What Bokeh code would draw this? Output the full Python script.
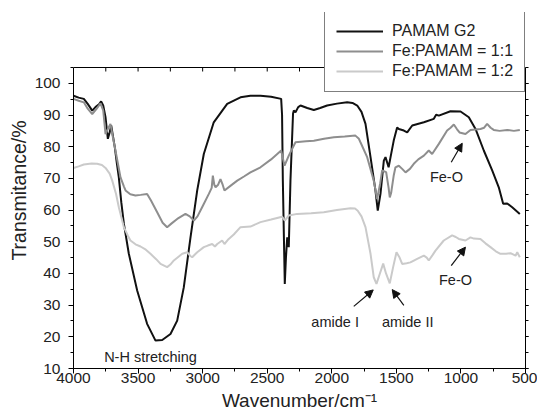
from bokeh.plotting import figure
from bokeh.models import (Range1d, LinearAxis, SingleIntervalTicker, Legend, LegendItem,
                          ColumnDataSource, Arrow, NormalHead, Span)
from bokeh.core.properties import value
from bokeh.embed import file_html
from bokeh.resources import INLINE

# ---------------- data ----------------
pamam_wn = [4000, 3960, 3920, 3890, 3855, 3830, 3800, 3786, 3770, 3752, 3734, 3720, 3708, 3695,
            3680, 3665, 3649, 3630, 3610, 3572, 3507, 3430, 3365, 3313, 3249, 3197, 3146, 3094,
            3042, 2991, 2914, 2810, 2707, 2630, 2552, 2470, 2392, 2385, 2379, 2364, 2355, 2345,
            2333, 2320, 2300, 2294, 2281, 2260, 2242, 2190, 2139, 2090, 2036, 1960, 1881, 1840,
            1803, 1770, 1739, 1700, 1662, 1644, 1623, 1597, 1584, 1560, 1545, 1520, 1494, 1481,
            1442, 1416, 1377, 1287, 1210, 1192, 1171, 1081, 1003, 939, 887, 823, 758, 707, 673,
            642, 603, 544]
pamam_t = [96.1, 95.5, 95.1, 93.5, 91.4, 92.5, 93.5, 94.3, 93.0, 89.3, 82.5, 84.5, 86.7, 83.5,
           79.8, 75.0, 70.3, 62.5, 55.7, 46.3, 34.6, 24.1, 18.8, 19.0, 20.9, 25.1, 35.6, 51.4,
           66.2, 77.7, 87.7, 93.5, 95.6, 96.1, 96.1, 95.8, 95.1, 90.0, 69.3, 36.7, 45.0, 51.4,
           48.3, 69.3, 90.5, 91.4, 90.9, 92.5, 93.0, 92.2, 91.6, 92.2, 93.0, 93.6, 94.0, 93.8,
           93.0, 91.0, 87.2, 76.7, 66.2, 59.8, 65.1, 75.6, 76.7, 73.5, 76.7, 82.0, 86.1, 85.6,
           85.1, 84.5, 86.7, 87.7, 88.8, 90.1, 89.8, 91.2, 91.1, 89.3, 85.6, 78.8, 72.5, 67.2,
           62.0, 62.1, 60.9, 58.8]

fe11_wn = [4000, 3960, 3920, 3890, 3855, 3820, 3791, 3770, 3752, 3735, 3714, 3695, 3675, 3636,
           3610, 3597, 3560, 3520, 3480, 3430, 3400, 3352, 3310, 3275, 3240, 3197, 3133, 3100,
           3068, 3040, 3004, 2952, 2930, 2921, 2910, 2900, 2880, 2862, 2845, 2831, 2780, 2732,
           2680, 2630, 2552, 2470, 2392, 2366, 2333, 2281, 2200, 2139, 2060, 1984, 1900, 1817,
           1790, 1778, 1726, 1675, 1649, 1625, 1610, 1579, 1560, 1551, 1540, 1520, 1507, 1481,
           1455, 1429, 1395, 1365, 1330, 1287, 1249, 1223, 1171, 1107, 1080, 1055, 1030, 1011,
           965, 926, 849, 820, 797, 770, 746, 700, 642, 590, 544]
fe11_t = [95.1, 94.5, 94.0, 92.0, 90.3, 92.0, 93.7, 91.5, 84.0, 85.5, 87.2, 83.0, 78.8, 70.3,
          67.5, 66.2, 65.0, 64.6, 64.8, 65.1, 63.0, 59.3, 56.0, 54.6, 55.8, 57.2, 58.8, 58.0,
          56.7, 58.0, 60.9, 65.1, 67.0, 70.9, 68.0, 67.2, 68.0, 69.8, 68.0, 66.2, 67.8, 69.3,
          70.6, 71.9, 73.5, 76.0, 78.8, 74.0, 77.2, 81.4, 81.7, 81.9, 82.5, 83.0, 83.2, 83.5,
          82.5, 81.4, 76.7, 69.3, 63.5, 68.5, 72.5, 72.0, 67.0, 64.0, 65.5, 71.0, 73.5, 74.0,
          73.0, 71.9, 73.0, 74.6, 76.0, 77.2, 78.8, 77.7, 80.9, 85.1, 86.0, 87.0, 85.5, 84.5,
          84.0, 85.3, 85.6, 86.0, 87.2, 86.0, 85.3, 85.0, 85.3, 85.0, 85.3]

fe12_wn = [4000, 3960, 3920, 3860, 3817, 3780, 3752, 3720, 3700, 3670, 3649, 3610, 3580, 3559,
           3520, 3481, 3440, 3404, 3360, 3326, 3275, 3250, 3223, 3158, 3120, 3095, 3081, 3060,
           3042, 2991, 2960, 2926, 2905, 2887, 2849, 2831, 2800, 2759, 2707, 2630, 2552, 2470,
           2384, 2364, 2333, 2268, 2160, 2062, 1960, 1855, 1820, 1799, 1770, 1739, 1700, 1675,
           1654, 1628, 1602, 1580, 1551, 1525, 1499, 1475, 1455, 1420, 1391, 1339, 1287, 1265,
           1249, 1220, 1197, 1133, 1068, 1040, 1016, 965, 926, 900, 849, 810, 771, 730, 694,
           650, 616, 577, 564, 544]
fe12_t = [73.3, 73.8, 74.4, 74.7, 74.6, 74.2, 73.3, 71.5, 69.3, 65.0, 60.9, 54.6, 52.0, 50.4,
          49.2, 48.5, 47.5, 46.2, 44.5, 43.0, 42.0, 42.8, 44.1, 46.2, 46.7, 45.5, 45.1, 46.0,
          46.7, 48.3, 48.8, 49.3, 48.5, 49.3, 50.4, 49.3, 50.8, 52.3, 54.6, 54.8, 56.2, 57.0,
          57.9, 56.7, 58.3, 58.8, 59.0, 59.3, 60.0, 60.6, 60.5, 59.8, 58.0, 54.6, 46.2, 38.8,
          36.7, 39.9, 43.1, 40.0, 36.9, 42.0, 46.7, 45.0, 43.0, 43.2, 43.5, 44.6, 45.6, 45.0,
          44.1, 45.8, 47.2, 50.4, 52.0, 51.5, 50.9, 50.4, 51.4, 51.0, 50.9, 49.5, 48.3, 47.0,
          46.2, 46.2, 46.4, 45.6, 46.7, 45.1]

series_names = ["PAMAM G2", "Fe:PAMAM = 1:1", "Fe:PAMAM = 1:2"]

ann_text = ["N-H stretching", "amide I", "amide II", "Fe-O", "Fe-O"]
ann_x = [3404, 1974, 1412, 1112, 1042]
ann_y = [12.2, 23.2, 23.2, 68.8, 36.2]

arrow_x0 = [1830, 1442, 1075, 1075]
arrow_y0 = [29.6, 29.9, 75.1, 42.5]
arrow_x1 = [1679, 1532, 990, 965]
arrow_y1 = [34.8, 34.9, 81.1, 48.3]

x_label = "Wavenumber/cm\u207b\u00b9"
y_label = "Transmitance/%"

Y_MIN, Y_MAX = 10, 105          # visible axis box
X_START, X_END = 4000, 500

# ---------------- figure ----------------
FONT = "Liberation Sans"
# frame extends above the axis box so the legend (which overlaps the box top) is not clipped
y_top = Y_MIN + (420 - 12 - 52) * (Y_MAX - Y_MIN) / 301.0
p = figure(width=537, height=420, output_backend="svg", toolbar_location=None,
           x_range=Range1d(X_START, X_END), y_range=Range1d(Y_MIN, y_top),
           min_border_left=73, min_border_right=12, min_border_top=12, min_border_bottom=52,
           x_axis_label=x_label, y_axis_label=y_label)
p.xgrid.visible = False
p.ygrid.visible = False
p.outline_line_color = None
p.background_fill_color = "white"
p.border_fill_color = "white"

xa = p.xaxis[0]
xa.ticker = SingleIntervalTicker(interval=500, num_minor_ticks=2)
ya = p.yaxis[0]
ya.ticker = SingleIntervalTicker(interval=10, num_minor_ticks=2)
ya.bounds = (Y_MIN, Y_MAX)
for ax in (xa, ya):
    ax.axis_line_color = "black"
    ax.major_tick_line_color = "black"
    ax.minor_tick_line_color = "black"
    ax.major_tick_in = 0
    ax.major_tick_out = 5
    ax.minor_tick_in = 0
    ax.minor_tick_out = 3
    ax.major_label_text_font = FONT
    ax.major_label_text_font_size = "15.5px"
    ax.major_label_text_color = "#222222"
    ax.axis_label_text_font = FONT
    ax.axis_label_text_font_style = "normal"
    ax.axis_label_text_color = "#222222"
xa.axis_label_text_font_size = "19px"
ya.axis_label_text_font_size = "19.5px"
ya.major_label_standoff = 8
ya.axis_label_standoff = 2
xa.major_label_standoff = -1
xa.axis_label_standoff = 4

right = LinearAxis(ticker=SingleIntervalTicker(interval=10, num_minor_ticks=2))
right.bounds = (Y_MIN, Y_MAX)
right.major_tick_in = 0
right.major_tick_out = 3
right.minor_tick_in = 0
right.minor_tick_out = 3
right.major_label_text_font_size = "1px"
right.major_label_text_color = None
right.major_label_standoff = 0
p.add_layout(right, "right")

# top edge of the axis box, with inward ticks every 250
p.add_layout(Span(location=Y_MAX, dimension="width", line_color="black", line_width=1))
top_ticks = list(range(X_END + 250, X_START, 250))
tick_len = 4 * (y_top - Y_MIN) / (420 - 12 - 52)
p.segment(x0=top_ticks, y0=[Y_MAX] * len(top_ticks), x1=top_ticks,
          y1=[Y_MAX - tick_len] * len(top_ticks), line_color="black", line_width=1)

colors = ["#111111", "#8e8e8e", "#cacaca"]
r1 = p.line(pamam_wn, pamam_t, line_color=colors[0], line_width=2)
r2 = p.line(fe11_wn, fe11_t, line_color=colors[1], line_width=2)
r3 = p.line(fe12_wn, fe12_t, line_color=colors[2], line_width=2)

# annotations
p.text(x=ann_x, y=ann_y, text=ann_text, text_font=value(FONT), text_font_size="14.5px",
       text_align="center", text_baseline="alphabetic", text_color="#222222", y_offset=-5)
asrc = ColumnDataSource(dict(x0=arrow_x0, y0=arrow_y0, x1=arrow_x1, y1=arrow_y1))
p.add_layout(Arrow(x_start="x0", y_start="y0", x_end="x1", y_end="y1", source=asrc,
                   line_color="#111111", line_width=1.2,
                   end=NormalHead(size=8, fill_color="#111111", line_color="#111111")))

legend = Legend(items=[LegendItem(label=series_names[0], renderers=[r1]),
                       LegendItem(label=series_names[1], renderers=[r2]),
                       LegendItem(label=series_names[2], renderers=[r3])],
                location=(251, 276), orientation="vertical",
                border_line_color="black", border_line_width=1,
                background_fill_color="white", background_fill_alpha=1.0,
                padding=11, spacing=2, margin=0,
                glyph_width=47, glyph_height=18, label_standoff=9,
                label_text_font=FONT, label_text_font_size="16px", label_text_color="#222222")
p.add_layout(legend, "center")

open("out.html", "w").write(file_html(p, INLINE))
